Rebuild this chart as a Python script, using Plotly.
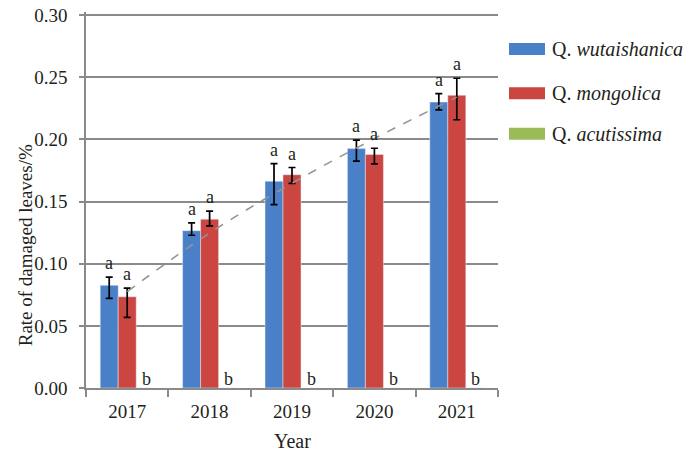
import plotly.graph_objects as go

years = ["2017", "2018", "2019", "2020", "2021"]
wutaishanica = [0.0826, 0.1266, 0.1663, 0.1926, 0.2300]
wut_err_plus = [0.0066, 0.0063, 0.0142, 0.0069, 0.0068]
wut_err_minus = [0.0105, 0.0037, 0.0187, 0.0100, 0.0063]
mongolica = [0.0734, 0.1358, 0.1716, 0.1879, 0.2355]
mon_err_plus = [0.0070, 0.0065, 0.0058, 0.0050, 0.0137]
mon_err_minus = [0.0166, 0.0053, 0.0069, 0.0076, 0.0197]
acutissima = [0.0, 0.0, 0.0, 0.0, 0.0]
wut_letters = ["a", "a", "a", "a", "a"]
mon_letters = ["a", "a", "a", "a", "a"]
acu_letters = ["b", "b", "b", "b", "b"]
trend = [0.0775, 0.1247, 0.1647, 0.2007, 0.2340]
y_ticks = [0.00, 0.05, 0.10, 0.15, 0.20, 0.25, 0.30]

BLUE = "#4A80C8"
RED = "#CB4541"
GREEN = "#9BBB59"
FONT = "Liberation Serif"
TXT = "#231f20"
GRID = "#8a8a8a"

fig = go.Figure()
err_style = dict(type="data", symmetric=False, color="black", thickness=1.7, width=3.5)
fig.add_trace(go.Bar(x=years, y=wutaishanica, marker_color=BLUE, name="Q. wutaishanica",
                     error_y=dict(array=wut_err_plus, arrayminus=wut_err_minus, **err_style)))
fig.add_trace(go.Bar(x=years, y=mongolica, marker_color=RED, name="Q. mongolica",
                     error_y=dict(array=mon_err_plus, arrayminus=mon_err_minus, **err_style)))
fig.add_trace(go.Bar(x=years, y=acutissima, marker_color=GREEN, name="Q. acutissima"))
fig.add_trace(go.Scatter(x=years, y=trend, mode="lines", line_shape="spline",
                         line=dict(color="#949494", width=1.6, dash="dash"), showlegend=False))

BW = 18  # bar pixel width for label offsets
LF = dict(family=FONT, size=18, color=TXT)
annotations = []
for i, yr in enumerate(years):
    # category index i is the position of years[i] on the category axis
    annotations.append(dict(x=i, y=wutaishanica[i] + wut_err_plus[i], text=wut_letters[i],
                            xshift=-BW, yshift=2, yanchor="bottom", showarrow=False, font=LF))
    annotations.append(dict(x=i, y=mongolica[i] + mon_err_plus[i], text=mon_letters[i],
                            xshift=0, yshift=2, yanchor="bottom", showarrow=False, font=LF))
    annotations.append(dict(x=i, y=acutissima[i], text=acu_letters[i],
                            xshift=BW + 1, yshift=-3, yanchor="bottom", showarrow=False, font=LF))

# axis titles
annotations.append(dict(xref="paper", yref="paper", x=0.5, y=-0.14, text="Year",
                        showarrow=False, yanchor="middle",
                        font=dict(family=FONT, size=20, color=TXT)))
annotations.append(dict(xref="paper", yref="paper", x=-0.178, y=0.38,
                        text="Rate of damaged leaves/%", textangle=-90, showarrow=False,
                        font=dict(family=FONT, size=19, color=TXT)))

# legend (manual)
shapes = []
legend_items = [("Q. <i>wutaishanica</i>", BLUE, 0.9018),
                ("Q. <i>mongolica</i>", RED, 0.7842),
                ("Q. <i>acutissima</i>", GREEN, 0.6763)]
for label, col, yy in legend_items:
    shapes.append(dict(type="rect", xref="paper", yref="paper",
                       xsizemode="pixel", ysizemode="pixel",
                       xanchor=1.0267, yanchor=yy, x0=0, x1=36, y0=-6, y1=6,
                       fillcolor=col, line=dict(width=0)))
    annotations.append(dict(xref="paper", yref="paper", x=1.0267, xshift=41, y=yy,
                            text=label, showarrow=False, xanchor="left", yanchor="middle",
                            font=dict(family=FONT, size=20, color=TXT)))

fig.update_layout(
    width=685, height=452,
    margin=dict(l=86, r=187, t=5, b=64),
    paper_bgcolor="white", plot_bgcolor="white",
    barmode="group", bargap=0.345, bargroupgap=0,
    showlegend=False,
    font=dict(family=FONT, size=16, color=TXT),
    annotations=annotations, shapes=shapes,
)
fig.update_xaxes(type="category", range=[-0.5, len(years) - 0.5], autorange=False,
                 showline=True, linecolor=GRID, linewidth=1.5,
                 ticks="outside", tickson="boundaries", ticklen=7, tickwidth=1.5,
                 tickcolor=GRID, showgrid=False, ticklabelstandoff=5,
                 tickfont=dict(family=FONT, size=19, color=TXT))
fig.update_yaxes(range=[0, 0.3025], autorange=False, tickvals=y_ticks, tickformat=".2f",
                 showline=True, linecolor=GRID, linewidth=1.5,
                 ticks="outside", ticklen=5, tickwidth=1.5, tickcolor=GRID,
                 showgrid=True, gridcolor=GRID, gridwidth=1.5, zeroline=False,
                 ticklabelstandoff=8, ticklabeloverflow="allow",
                 tickfont=dict(family=FONT, size=19, color=TXT))

fig.write_html("out.html", config={"displayModeBar": False},
               post_script="document.body.style.margin='0';document.body.style.overflow='hidden';")
